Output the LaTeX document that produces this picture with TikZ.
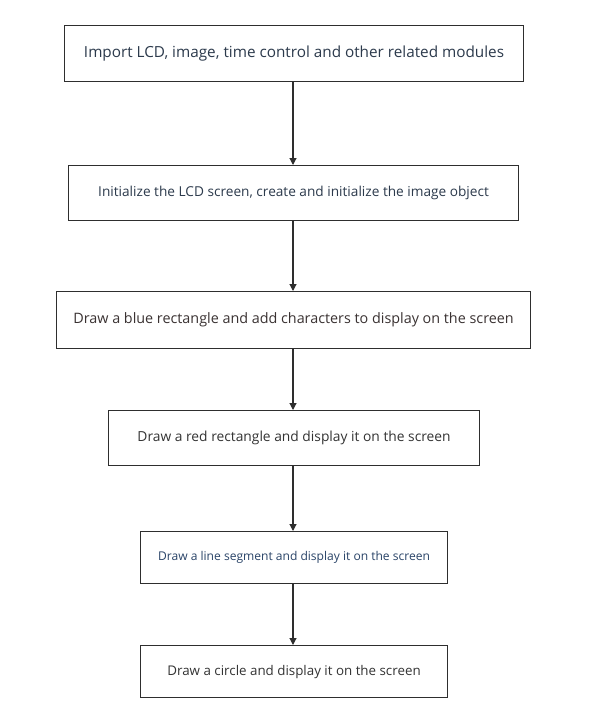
\documentclass[tikz,border=0pt]{standalone}
\usepackage{fontspec}
\setmainfont{Open Sans}
\usetikzlibrary{arrows.meta}
\definecolor{boxline}{HTML}{2E2E2E}
\definecolor{txtslate}{HTML}{2C3A4C}
\definecolor{txtbrown}{HTML}{3A3232}
\definecolor{txtgray}{HTML}{333333}
\definecolor{txtblue}{HTML}{2A4468}
\tikzset{
  stepbox/.style={draw=boxline, line width=1.1bp, rectangle, inner sep=0pt, anchor=north west},
  flow/.style={draw=boxline, line width=1.1bp, -{Triangle[length=7bp,width=7bp]}},
}
\begin{document}
\begin{tikzpicture}[x=1bp,y=-1bp]
\useasboundingbox (0,0) rectangle (600,713);
\fill[white] (0,0) rectangle (600,713);
\node[stepbox, minimum width=459bp, minimum height=56bp] (b1) at (64,25) {};
\node[text=txtslate, font=\fontsize{15.35}{17}\selectfont] at (b1.center) {Import LCD, image, time control and other related modules};
\node[stepbox, minimum width=450bp, minimum height=55bp] (b2) at (68,165) {};
\node[text=txtslate, font=\fontsize{13.7}{15}\selectfont] at (b2.center) {Initialize the LCD screen, create and initialize the image object};
\node[stepbox, minimum width=474bp, minimum height=57bp] (b3) at (56,291) {};
\node[text=txtbrown, font=\fontsize{14.4}{16}\selectfont] at (b3.center) {Draw a blue rectangle and add characters to display on the screen};
\node[stepbox, minimum width=371bp, minimum height=55bp] (b4) at (108,410) {};
\node[text=txtgray, font=\fontsize{13.85}{16}\selectfont] at (b4.center) {Draw a red rectangle and display it on the screen};
\node[stepbox, minimum width=307bp, minimum height=52bp] (b5) at (140,531) {};
\node[text=txtblue, font=\fontsize{12.1}{14}\selectfont] at (b5.center) {Draw a line segment and display it on the screen};
\node[stepbox, minimum width=307bp, minimum height=52bp] (b6) at (140,645) {};
\node[text=txtgray, font=\fontsize{13.4}{15}\selectfont] at (b6.center) {Draw a circle and display it on the screen};
\draw[flow] (b1.south -| 293,0) -- (b2.north -| 293,0);
\draw[flow] (b2.south -| 293,0) -- (b3.north -| 293,0);
\draw[flow] (b3.south -| 293,0) -- (b4.north -| 293,0);
\draw[flow] (b4.south -| 293,0) -- (b5.north -| 293,0);
\draw[flow] (b5.south -| 293,0) -- (b6.north -| 293,0);
\end{tikzpicture}
\end{document}
